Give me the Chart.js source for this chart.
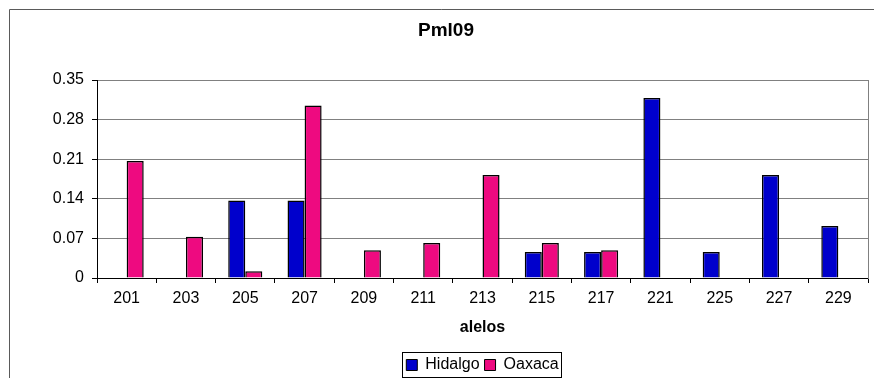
<!DOCTYPE html>
<html>
<head>
<meta charset="utf-8">
<script src="https://cdn.jsdelivr.net/npm/chart.js@4.4.1/dist/chart.umd.min.js"></script>
<style>
  html, body { margin: 0; padding: 0; background: #ffffff; }
  #wrap { width: 874px; height: 378px; position: relative; }
</style>
</head>
<body>
<div id="wrap"><canvas id="chart" width="874" height="378"></canvas></div>
<script>
// Allele sizes (x axis categories)
const categories = ['201', '203', '205', '207', '209', '211', '213', '215', '217', '221', '225', '227', '229'];
// Allele frequencies per population
const hidalgo = [null, null, 0.137, 0.137, null, null, null, 0.046, 0.046, 0.318, 0.046, 0.182, 0.092];
const oaxaca  = [0.207, 0.073, 0.012, 0.305, 0.049, 0.062, 0.182, 0.062, 0.049, null, null, null, null];
// Y axis ticks
const yTickValues = [0, 0.07, 0.14, 0.21, 0.28, 0.35];
const yTickLabels = ['0', '0.07', '0.14', '0.21', '0.28', '0.35'];

const FONT = "'Liberation Sans', Arial, sans-serif";

// White background plus the outer chart frame (top and left edges visible)
const framePlugin = {
  id: 'frame',
  beforeDraw(chart) {
    const ctx = chart.ctx;
    ctx.save();
    ctx.fillStyle = '#ffffff';
    ctx.fillRect(0, 0, chart.width, chart.height);
    ctx.strokeStyle = '#5a5a5a';
    ctx.lineWidth = 1;
    ctx.beginPath();
    ctx.moveTo(9.5, chart.height);
    ctx.lineTo(9.5, 9.5);
    ctx.lineTo(chart.width, 9.5);
    ctx.stroke();
    ctx.restore();
  }
};

// Thin black box around the legend entries
const legendBoxPlugin = {
  id: 'legendBox',
  afterDraw(chart) {
    const lg = chart.legend;
    if (!lg || !lg.legendHitBoxes || !lg.legendHitBoxes.length) return;
    const boxes = lg.legendHitBoxes;
    let l = Infinity, r = -Infinity, t = Infinity, b = -Infinity;
    boxes.forEach(h => {
      l = Math.min(l, h.left);
      r = Math.max(r, h.left + h.width);
      t = Math.min(t, h.top);
      b = Math.max(b, h.top + h.height);
    });
    const ctx = chart.ctx;
    ctx.save();
    ctx.strokeStyle = '#000000';
    ctx.lineWidth = 1;
    ctx.strokeRect(Math.round(l - 4) + 0.5, Math.round(t - 5) + 0.5, Math.round(r - l + 7), Math.round(b - t + 9));
    ctx.restore();
  }
};

new Chart(document.getElementById('chart'), {
  type: 'bar',
  data: {
    labels: categories,
    datasets: [
      {
        label: 'Hidalgo',
        data: hidalgo,
        backgroundColor: '#0000cc',
        borderColor: '#000000',
        borderWidth: 1.5
      },
      {
        label: 'Oaxaca',
        data: oaxaca,
        backgroundColor: '#ee0a80',
        borderColor: '#000000',
        borderWidth: 1.5
      }
    ]
  },
  options: {
    responsive: false,
    animation: false,
    events: [],
    layout: { padding: { left: 18, right: 0, top: 0, bottom: -5 } },
    datasets: {
      bar: { categoryPercentage: 0.575, barPercentage: 1.0 }
    },
    scales: {
      x: {
        offset: true,
        grid: {
          offset: true,
          drawOnChartArea: false,
          drawTicks: true,
          tickLength: 5,
          color: '#000000',
          tickColor: '#000000'
        },
        border: { display: true, color: '#000000', width: 1 },
        ticks: {
          color: '#000000',
          font: { family: FONT, size: 16 },
          padding: 6,
          maxRotation: 0,
          autoSkip: false
        },
        title: {
          display: true,
          text: 'alelos',
          color: '#000000',
          font: { family: FONT, size: 16, weight: 'bold' },
          padding: { top: 0, bottom: 15 }
        },
        afterFit(scale) { scale.height = 74; }
      },
      y: {
        min: 0,
        max: 0.35,
        afterBuildTicks(scale) {
          scale.ticks = yTickValues.map(v => ({ value: v }));
        },
        grid: {
          color: '#808080',
          lineWidth: 1,
          tickColor: '#000000',
          tickLength: 5,
          drawTicks: true
        },
        border: { display: true, color: '#000000', width: 1 },
        ticks: {
          color: '#000000',
          font: { family: FONT, size: 16 },
          padding: 8,
          callback(value, index) { return yTickLabels[index]; }
        },
        afterFit(scale) { scale.width = 79; }
      },
      yRight: {
        position: 'right',
        display: true,
        grid: { display: false, drawTicks: false },
        ticks: { display: false },
        border: { display: true, color: '#808080', width: 1 },
        afterFit(scale) { scale.width = 6; }
      }
    },
    plugins: {
      title: {
        display: true,
        text: 'Pml09',
        color: '#000000',
        font: { family: FONT, size: 19, weight: 'bold' },
        padding: { top: 19.6, bottom: 37.6 }
      },
      legend: {
        display: true,
        position: 'bottom',
        fullSize: false,
        labels: {
          color: '#000000',
          font: { family: FONT, size: 16 },
          boxWidth: 11,
          boxHeight: 11,
          padding: 5,
          generateLabels(chart) {
            return chart.data.datasets.map((ds, i) => ({
              text: ds.label,
              fillStyle: ds.backgroundColor,
              strokeStyle: '#000000',
              lineWidth: 1,
              hidden: false,
              datasetIndex: i,
              fontColor: '#000000'
            }));
          }
        }
      },
      tooltip: { enabled: false }
    }
  },
  plugins: [framePlugin, legendBoxPlugin]
});
</script>
</body>
</html>
